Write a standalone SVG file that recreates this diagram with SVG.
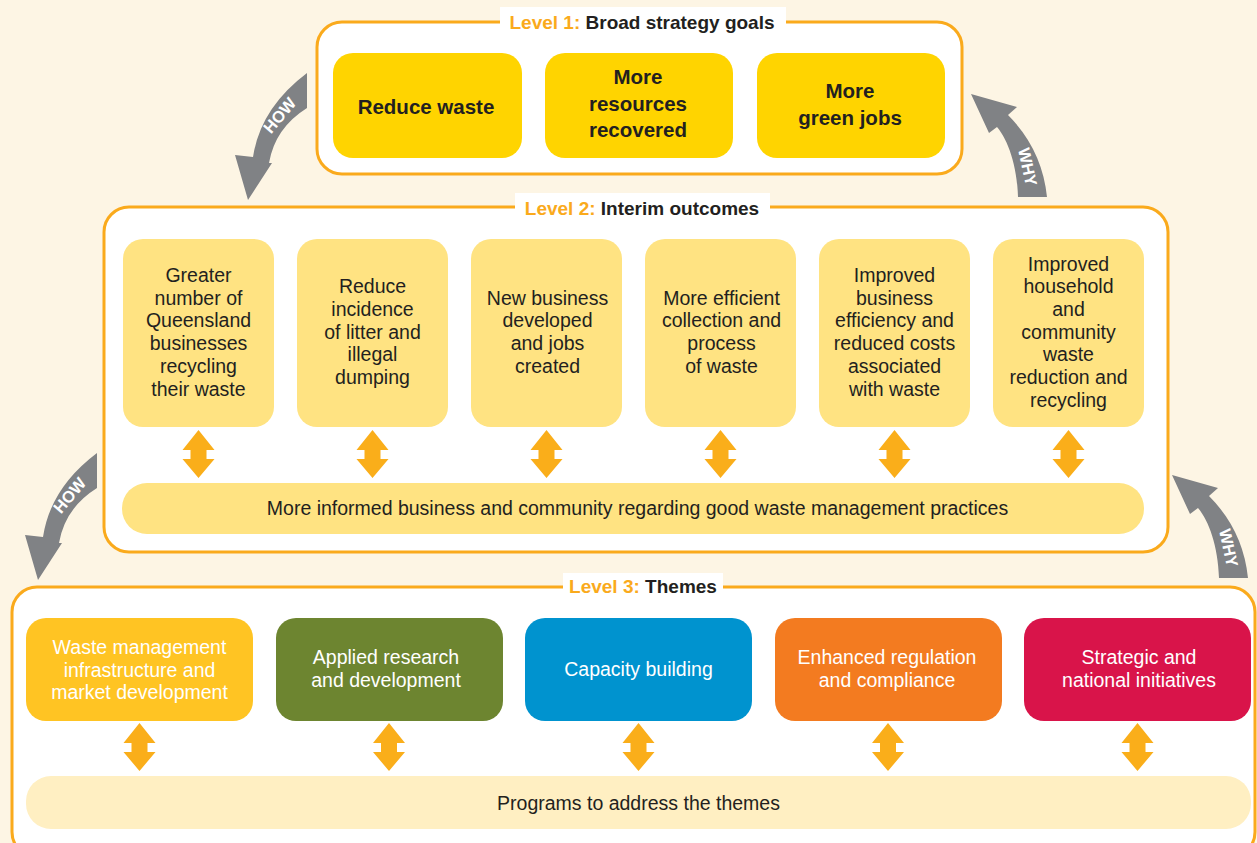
<svg xmlns="http://www.w3.org/2000/svg" xmlns:xlink="http://www.w3.org/1999/xlink" width="1257" height="843" viewBox="0 0 1257 843">
<defs>
<style>
.lvl{fill:#ffffff;stroke:#FAAA1C;stroke-width:3}
.lbl{font-family:"Liberation Sans",Arial,sans-serif;font-weight:bold;font-size:19px;fill:#231F20;text-anchor:middle}
.lbl .o{fill:#FAAA1C}
.g1{fill:#FFD400}
.g2{fill:#FFE382}
.t1{font-family:"Liberation Sans",Arial,sans-serif;font-weight:bold;font-size:20.5px;fill:#231F20;text-anchor:middle}
.t2{font-family:"Liberation Sans",Arial,sans-serif;font-size:19.5px;fill:#231F20;text-anchor:middle}
.t3{font-family:"Liberation Sans",Arial,sans-serif;font-size:19.5px;fill:#ffffff;text-anchor:middle}
.tb{font-family:"Liberation Sans",Arial,sans-serif;font-size:19.5px;fill:#231F20;text-anchor:middle}
.da{fill:#FAAE1A}
.ga{fill:#808285}
.gt{font-family:"Liberation Sans",Arial,sans-serif;font-weight:bold;font-size:16.5px;fill:#ffffff;text-anchor:middle}
</style>
<path id="dbl" d="M0 0 L16 20 L8 20 L8 29 L16 29 L0 48 L-16 29 L-8 29 L-8 20 L-16 20 Z"/>
<path id="howArrow" d="M307 73 Q260.4 108 253 157 L235 155 L248 200 L272 163 L269 163 Q275 128 307 108 Z"/>
<path id="whyArrow" d="M1047 197 Q1042 149 1008 115 L1017 107 L971 94 L989 133 L997 127 C1008 140 1017 165 1018 197 Z"/>
</defs>
<rect x="0" y="0" width="1257" height="843" fill="#FDF5E4"/>

<!-- Level 1 -->
<g id="level1">
<rect class="lvl" x="317" y="22" width="645" height="152" rx="25"/>
<rect x="500" y="7" width="286" height="30" fill="#ffffff"/>
<text class="lbl" x="642" y="29"><tspan class="o">Level 1:</tspan> Broad strategy goals</text>
</g>
<g id="goal-reduce-waste">
<rect class="g1" x="333" y="53" width="189" height="105" rx="20"/>
<text class="t1" x="426" y="114">Reduce waste</text>
</g>
<g id="goal-more-resources">
<rect class="g1" x="545" y="53" width="188" height="105" rx="20"/>
<text class="t1" x="638" y="84">More</text>
<text class="t1" x="638" y="110.5">resources</text>
<text class="t1" x="638" y="137">recovered</text>
</g>
<g id="goal-green-jobs">
<rect class="g1" x="757" y="53" width="188" height="105" rx="20"/>
<text class="t1" x="850" y="98">More</text>
<text class="t1" x="850" y="125">green jobs</text>
</g>

<!-- Level 2 -->
<g id="level2">
<rect class="lvl" x="104" y="207" width="1064" height="345" rx="25"/>
<rect x="515" y="193" width="255" height="28" fill="#ffffff"/>
<text class="lbl" x="642" y="215"><tspan class="o">Level 2:</tspan> Interim outcomes</text>
</g>
<g id="outcome-1">
<rect class="g2" x="123" y="239" width="151" height="188" rx="20"/>
<text class="t2" x="198.5" y="282">Greater</text>
<text class="t2" x="198.5" y="304.7">number of</text>
<text class="t2" x="198.5" y="327.4">Queensland</text>
<text class="t2" x="198.5" y="350.1">businesses</text>
<text class="t2" x="198.5" y="372.8">recycling</text>
<text class="t2" x="198.5" y="395.5">their waste</text>
</g>
<g id="outcome-2">
<rect class="g2" x="297" y="239" width="151" height="188" rx="20"/>
<text class="t2" x="372.5" y="293.3">Reduce</text>
<text class="t2" x="372.5" y="316">incidence</text>
<text class="t2" x="372.5" y="338.7">of litter and</text>
<text class="t2" x="372.5" y="361.4">illegal</text>
<text class="t2" x="372.5" y="384.1">dumping</text>
</g>
<g id="outcome-3">
<rect class="g2" x="471" y="239" width="151" height="188" rx="20"/>
<text class="t2" x="547.5" y="304.7">New business</text>
<text class="t2" x="547.5" y="327.4">developed</text>
<text class="t2" x="547.5" y="350.1">and jobs</text>
<text class="t2" x="547.5" y="372.8">created</text>
</g>
<g id="outcome-4">
<rect class="g2" x="645" y="239" width="151" height="188" rx="20"/>
<text class="t2" x="721.5" y="304.7">More efficient</text>
<text class="t2" x="721.5" y="327.4">collection and</text>
<text class="t2" x="721.5" y="350.1">process</text>
<text class="t2" x="721.5" y="372.8">of waste</text>
</g>
<g id="outcome-5">
<rect class="g2" x="819" y="239" width="151" height="188" rx="20"/>
<text class="t2" x="894.5" y="282">Improved</text>
<text class="t2" x="894.5" y="304.7">business</text>
<text class="t2" x="894.5" y="327.4">efficiency and</text>
<text class="t2" x="894.5" y="350.1">reduced costs</text>
<text class="t2" x="894.5" y="372.8">associated</text>
<text class="t2" x="894.5" y="395.5">with waste</text>
</g>
<g id="outcome-6">
<rect class="g2" x="993" y="239" width="151" height="188" rx="20"/>
<text class="t2" x="1068.5" y="270.6">Improved</text>
<text class="t2" x="1068.5" y="293.3">household</text>
<text class="t2" x="1068.5" y="316">and</text>
<text class="t2" x="1068.5" y="338.7">community</text>
<text class="t2" x="1068.5" y="361.4">waste</text>
<text class="t2" x="1068.5" y="384.1">reduction and</text>
<text class="t2" x="1068.5" y="406.8">recycling</text>
</g>
<g id="outcome-informed">
<rect class="g2" x="122" y="483" width="1022" height="51" rx="25"/>
<text class="tb" x="637.5" y="515">More informed business and community regarding good waste management practices</text>
</g>

<!-- Level 3 -->
<g id="level3">
<rect class="lvl" x="12" y="587" width="1243" height="270" rx="25"/>
<rect x="563" y="573" width="160" height="27" fill="#ffffff"/>
<text class="lbl" x="643" y="593"><tspan class="o">Level 3:</tspan> Themes</text>
</g>
<g id="theme-infrastructure">
<rect x="26" y="618" width="227" height="103" rx="20" fill="#FFC423"/>
<text class="t3" x="139.5" y="654">Waste management</text>
<text class="t3" x="139.5" y="677">infrastructure and</text>
<text class="t3" x="139.5" y="699">market development</text>
</g>
<g id="theme-research">
<rect x="276" y="618" width="227" height="103" rx="20" fill="#6D8530"/>
<text class="t3" x="386" y="664">Applied research</text>
<text class="t3" x="386" y="687">and development</text>
</g>
<g id="theme-capacity">
<rect x="525" y="618" width="227" height="103" rx="20" fill="#0093CF"/>
<text class="t3" x="638.5" y="676">Capacity building</text>
</g>
<g id="theme-regulation">
<rect x="775" y="618" width="227" height="103" rx="20" fill="#F37B20"/>
<text class="t3" x="887" y="664">Enhanced regulation</text>
<text class="t3" x="887" y="687">and compliance</text>
</g>
<g id="theme-national">
<rect x="1024" y="618" width="227" height="103" rx="20" fill="#D9144A"/>
<text class="t3" x="1139" y="664">Strategic and</text>
<text class="t3" x="1139" y="687">national initiatives</text>
</g>
<g id="programs">
<rect x="26" y="776" width="1225" height="53" rx="25" fill="#FFEFC2"/>
<text class="tb" x="638.5" y="810">Programs to address the themes</text>
</g>

<!-- Connectors -->
<g id="connectors">
<use xlink:href="#dbl" class="da" transform="translate(198.5 430)"/>
<use xlink:href="#dbl" class="da" transform="translate(372.5 430)"/>
<use xlink:href="#dbl" class="da" transform="translate(546.5 430)"/>
<use xlink:href="#dbl" class="da" transform="translate(720.5 430)"/>
<use xlink:href="#dbl" class="da" transform="translate(894.5 430)"/>
<use xlink:href="#dbl" class="da" transform="translate(1068.5 430)"/>
<use xlink:href="#dbl" class="da" transform="translate(139.5 723)"/>
<use xlink:href="#dbl" class="da" transform="translate(389 723)"/>
<use xlink:href="#dbl" class="da" transform="translate(638.5 723)"/>
<use xlink:href="#dbl" class="da" transform="translate(888 723)"/>
<use xlink:href="#dbl" class="da" transform="translate(1137.5 723)"/>

<g id="how-1">
<use xlink:href="#howArrow" class="ga"/>
<text class="gt" transform="translate(284 119) rotate(-50)">HOW</text>
</g>
<g id="how-2" transform="translate(-210 380)">
<use xlink:href="#howArrow" class="ga"/>
<text class="gt" transform="translate(284 119) rotate(-50)">HOW</text>
</g>
<g id="why-1">
<use xlink:href="#whyArrow" class="ga"/>
<text class="gt" transform="translate(1022 168) rotate(78)">WHY</text>
</g>
<g id="why-2" transform="translate(201 381)">
<use xlink:href="#whyArrow" class="ga"/>
<text class="gt" transform="translate(1022 168) rotate(78)">WHY</text>
</g>
</g>
</svg>
